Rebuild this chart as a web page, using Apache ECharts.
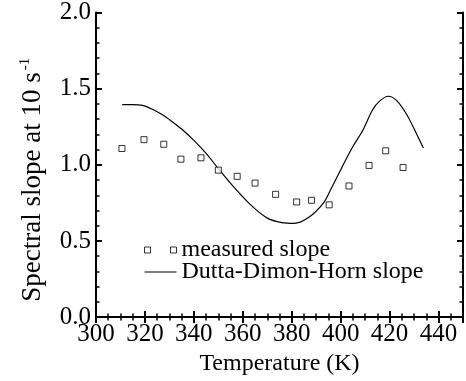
<!DOCTYPE html>
<html>
<head>
<meta charset="utf-8">
<script src="https://cdn.jsdelivr.net/npm/echarts@6/dist/echarts.min.js"></script>
<style>
  html, body { margin: 0; padding: 0; background: #fff; }
  #chart { width: 466px; height: 381px; }
</style>
</head>
<body>
<div id="chart"></div>
<script>
// measured slope points (temperature K, slope)
var measuredT = [310.6, 319.6, 327.7, 334.7, 342.9, 350.0, 357.7, 365.0, 373.4, 382.0, 388.1, 395.3, 403.4, 411.6, 418.4, 425.5];
var measuredS = [1.107, 1.165, 1.135, 1.037, 1.046, 0.965, 0.924, 0.880, 0.806, 0.756, 0.767, 0.737, 0.861, 0.996, 1.092, 0.982];

// Dutta-Dimon-Horn prediction
var modelT = [310.7, 315, 319, 323, 327, 331, 335, 340, 345, 350, 356, 363, 370, 376, 381, 387, 393, 396, 399, 402, 405, 409, 413, 416, 419.5, 423, 427, 430.5, 433.8];
var modelS = [1.395, 1.395, 1.39, 1.365, 1.33, 1.285, 1.235, 1.16, 1.075, 0.975, 0.86, 0.74, 0.65, 0.62, 0.615, 0.655, 0.75, 0.84, 0.935, 1.03, 1.12, 1.225, 1.36, 1.42, 1.45, 1.42, 1.33, 1.22, 1.11];

var xTicks = [300, 450, 20];   // min, max, step
var yTicks = [0, 2, 0.5];

var font = "'Liberation Serif', 'Times New Roman', serif";

function pairs(xs, ys) {
  var out = [];
  for (var i = 0; i < xs.length; i++) out.push([xs[i], ys[i]]);
  return out;
}

var myChart = echarts.init(document.getElementById('chart'));

var lineStyle = { color: '#000', width: 2 };
var minorStyle = { color: '#000', width: 1.5 };
var tickFont = { fontFamily: font, fontSize: 25, color: '#000' };

myChart.setOption({
  animation: false,
  textStyle: { fontFamily: font, color: '#000' },
  grid: { left: 96, right: 3, top: 12, bottom: 63 },
  legend: {
    orient: 'vertical',
    left: 139,
    top: 233,
    itemWidth: 32,
    itemHeight: 6,
    itemGap: -2,
    textStyle: { fontFamily: font, fontSize: 24, color: '#000' },
    data: [
      {
        name: 'measured slope',
        icon: 'path://M0,0h6v6h-6z M26,0h6v6h-6z',
        itemStyle: { color: '#fff', borderColor: '#000', borderWidth: 1 }
      },
      {
        name: 'Dutta-Dimon-Horn slope',
        icon: 'path://M0,0h32v1.2h-32z',
        itemHeight: 1.2,
        itemStyle: { color: '#000', borderWidth: 0 }
      }
    ]
  },
  xAxis: [
    {
      type: 'value',
      min: xTicks[0], max: xTicks[1], interval: xTicks[2],
      name: 'Temperature (K)',
      nameLocation: 'middle',
      nameGap: 33,
      nameTextStyle: { fontFamily: font, fontSize: 24, color: '#000' },
      axisLine: { lineStyle: lineStyle },
      axisTick: { inside: true, length: 6, lineStyle: lineStyle },
      minorTick: { show: true, splitNumber: 4, length: 3.5, lineStyle: minorStyle },
      axisLabel: {
        margin: 5,
        fontFamily: font, fontSize: 25, color: '#000',
        textStyle: tickFont,
        formatter: function (v) { return v > 440 ? '' : String(v); }
      },
      splitLine: { show: false }
    },
    {
      type: 'value',
      position: 'top',
      min: xTicks[0], max: xTicks[1], interval: xTicks[2],
      axisLine: { lineStyle: lineStyle },
      axisTick: { inside: true, length: 6, lineStyle: lineStyle },
      minorTick: { show: true, splitNumber: 4, length: 3.5, lineStyle: minorStyle },
      axisLabel: { show: false },
      splitLine: { show: false }
    }
  ],
  yAxis: [
    {
      type: 'value',
      min: yTicks[0], max: yTicks[1], interval: yTicks[2],
      name: '{a|Spectral slope at 10 s}{b|-1}',
      nameLocation: 'middle',
      nameGap: 49,
      nameTextStyle: {
        fontFamily: font, fontSize: 27, color: '#000',
        padding: [0, 30, 0, 0],
        rich: {
          a: { fontFamily: font, fontSize: 27, color: '#000' },
          b: { fontFamily: font, fontSize: 15, color: '#000', verticalAlign: 'top', padding: [0, 0, 14, 2] }
        }
      },
      axisLine: { lineStyle: lineStyle },
      axisTick: { inside: true, length: 6, lineStyle: lineStyle },
      minorTick: { show: true, splitNumber: 5, length: 3.5, lineStyle: minorStyle },
      axisLabel: {
        margin: 5,
        fontFamily: font, fontSize: 25, color: '#000',
        textStyle: tickFont,
        formatter: function (v) { return v.toFixed(1); }
      },
      splitLine: { show: false }
    },
    {
      type: 'value',
      position: 'right',
      min: yTicks[0], max: yTicks[1], interval: yTicks[2],
      axisLine: { lineStyle: lineStyle },
      axisTick: { inside: true, length: 6, lineStyle: lineStyle },
      minorTick: { show: true, splitNumber: 5, length: 3.5, lineStyle: minorStyle },
      axisLabel: { show: false },
      splitLine: { show: false }
    }
  ],
  series: [
    {
      name: 'measured slope',
      type: 'scatter',
      symbol: 'rect',
      symbolSize: 6,
      itemStyle: { color: '#fff', borderColor: '#000', borderWidth: 1 },
      data: pairs(measuredT, measuredS),
      z: 3
    },
    {
      name: 'Dutta-Dimon-Horn slope',
      type: 'line',
      showSymbol: false,
      symbol: 'none',
      smooth: 0.3,
      itemStyle: { color: '#000' },
      lineStyle: { color: '#000', width: 1.2 },
      data: pairs(modelT, modelS)
    }
  ]
});
</script>
</body>
</html>
